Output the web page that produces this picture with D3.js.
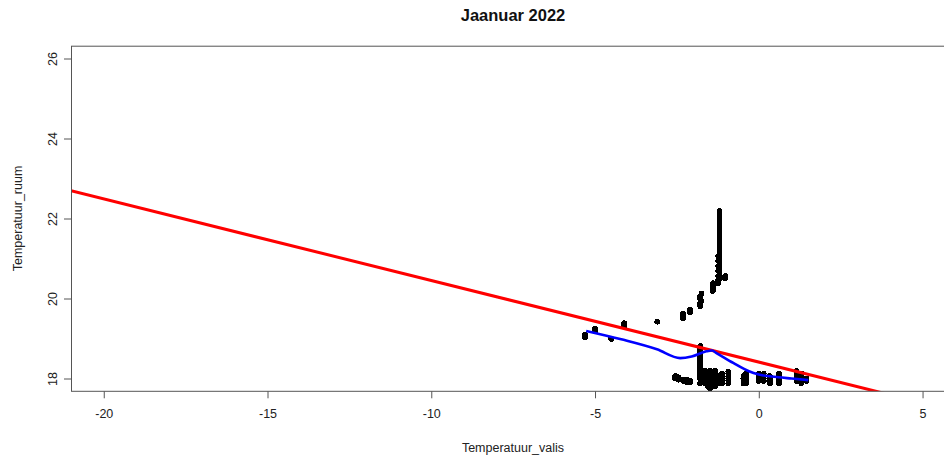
<!DOCTYPE html>
<html>
<head>
<meta charset="utf-8">
<script src="https://cdn.jsdelivr.net/npm/d3@7"></script>
<style>
  html, body { margin: 0; padding: 0; background: #fff; }
  svg { display: block; }
  text { font-family: "Liberation Sans", Arial, sans-serif; }
</style>
</head>
<body>
<svg id="chart" width="944" height="459"></svg>
<script>
// ---- Data ----
const title = "Jaanuar 2022";
const xLabel = "Temperatuur_valis";
const yLabel = "Temperatuur_ruum";
const xTicks = [-20, -15, -10, -5, 0, 5];
const yTicks = [18, 20, 22, 24, 26];
const xLim = [-20, 5];
const yLim = [18, 26];

// observations: [Temperatuur_valis, Temperatuur_ruum]
const obsLeft = [
  [-5.30, 19.03], [-5.30, 19.10], [-5.00, 19.18], [-5.00, 19.25],
  [-4.51, 18.99], [-4.11, 19.31], [-4.11, 19.38], [-3.10, 19.42]
];
const obsRising = [
  [-2.31, 19.50], [-2.31, 19.56], [-2.31, 19.62], [-2.10, 19.66], [-2.10, 19.72],
  [-1.79, 19.81], [-1.79, 19.88], [-1.75, 19.94], [-1.79, 20.00], [-1.79, 20.06],
  [-1.75, 20.12], [-1.40, 20.19], [-1.40, 20.25], [-1.40, 20.31], [-1.40, 20.38],
  [-1.25, 20.38], [-1.25, 20.44], [-1.03, 20.50], [-1.03, 20.56]
];
const obsColumnHigh = [
  [-1.20, 20.50], [-1.20, 20.56], [-1.20, 20.62], [-1.20, 20.69], [-1.20, 20.75],
  [-1.20, 20.81], [-1.20, 20.88], [-1.20, 20.94], [-1.20, 21.00], [-1.20, 21.06],
  [-1.20, 21.12], [-1.20, 21.19], [-1.20, 21.25], [-1.20, 21.31], [-1.20, 21.38],
  [-1.20, 21.44], [-1.20, 21.50], [-1.20, 21.56], [-1.20, 21.62], [-1.20, 21.69],
  [-1.20, 21.75], [-1.20, 21.81], [-1.20, 21.88], [-1.20, 21.94], [-1.20, 22.00],
  [-1.20, 22.06], [-1.20, 22.12], [-1.20, 22.19],
  [-1.24, 20.44], [-1.24, 20.56], [-1.24, 20.69], [-1.24, 20.81], [-1.24, 20.94], [-1.24, 21.06]
];
const obsColumnLow = [
  [-1.79, 18.81], [-1.79, 18.75], [-1.79, 18.69], [-1.79, 18.62], [-1.79, 18.56],
  [-1.79, 18.50], [-1.79, 18.44], [-1.79, 18.38], [-1.79, 18.31], [-1.79, 18.25],
  [-1.79, 18.19], [-1.79, 18.12]
];
const obsBottom = [
  [-2.55, 18.06], [-2.55, 18.00], [-2.45, 18.03], [-2.45, 17.97],
  [-2.31, 17.97], [-2.31, 17.94], [-2.20, 17.94], [-2.20, 17.91], [-2.20, 17.97],
  [-2.10, 17.91], [-2.10, 17.94],
  [-1.79, 18.06], [-1.79, 18.00], [-1.79, 17.88],
  [-1.64, 18.19], [-1.64, 18.12], [-1.64, 18.06], [-1.64, 18.00], [-1.64, 17.94], [-1.64, 17.88],
  [-1.55, 18.12], [-1.55, 18.00], [-1.55, 17.88], [-1.55, 17.81],
  [-1.49, 18.19], [-1.49, 18.12], [-1.49, 18.06], [-1.49, 18.00], [-1.49, 17.94],
  [-1.49, 17.88], [-1.49, 17.81], [-1.49, 17.75],
  [-1.40, 18.12], [-1.40, 18.00], [-1.40, 17.88], [-1.40, 17.81],
  [-1.33, 18.19], [-1.33, 18.12], [-1.33, 18.06], [-1.33, 18.00], [-1.33, 17.94],
  [-1.33, 17.88], [-1.33, 17.81],
  [-1.25, 18.06], [-1.25, 17.94], [-1.25, 17.88],
  [-1.12, 18.12], [-1.12, 18.06], [-1.12, 18.00], [-1.12, 17.94], [-1.12, 17.88],
  [-0.93, 18.17], [-0.93, 18.12], [-0.93, 18.06], [-0.93, 18.00], [-0.93, 17.94], [-0.93, 17.88],
  [-0.47, 18.06], [-0.47, 18.00], [-0.47, 17.94], [-0.47, 17.88],
  [-0.39, 18.12], [-0.39, 18.06], [-0.39, 18.00], [-0.39, 17.94], [-0.39, 17.88],
  [0.00, 18.12], [0.00, 18.06], [0.00, 18.00], [0.00, 17.94],
  [0.15, 18.12], [0.15, 18.06], [0.15, 18.00], [0.15, 17.94],
  [0.34, 18.06], [0.34, 18.00], [0.34, 17.94], [0.34, 17.88],
  [0.62, 18.12], [0.62, 18.06], [0.62, 18.00], [0.62, 17.94], [0.62, 17.88],
  [1.15, 18.19], [1.15, 18.12], [1.15, 18.06], [1.15, 18.00], [1.15, 17.94],
  [1.30, 18.12], [1.30, 18.06], [1.30, 18.00], [1.30, 17.94], [1.30, 17.88],
  [1.45, 18.00], [1.45, 17.94]
];

// linear regression line (abline)
const regIntercept = 18.41;
const regSlope = -0.204;

// lowess smooth
const lowessX = [-5.27, -4.20, -3.11, -2.40, -2.05, -1.60, -1.43, -1.28, -0.78, -0.30, 0.00, 0.61, 1.00, 1.51];
const lowessY = [19.19, 18.98, 18.73, 18.51, 18.55, 18.68, 18.70, 18.63, 18.39, 18.18, 18.10, 18.03, 18.00, 17.96];

// ---- Drawing ----
const svg = d3.select("#chart");
const margin = { left: 71, top: 45.7, right: 955.3, bottom: 391.3 };

const xPad = (xLim[1] - xLim[0]) * 0.04;
const yPad = (yLim[1] - yLim[0]) * 0.04;
const x = d3.scaleLinear().domain([xLim[0] - xPad, xLim[1] + xPad]).range([margin.left, margin.right]);
const y = d3.scaleLinear().domain([yLim[0] - yPad, yLim[1] + yPad]).range([margin.bottom, margin.top]);

svg.append("defs").append("clipPath").attr("id", "plotclip")
  .append("rect")
  .attr("x", margin.left).attr("y", margin.top)
  .attr("width", margin.right - margin.left).attr("height", margin.bottom - margin.top);

const axisColor = "#555";
const textColor = "#222";

// points
const allObs = [].concat(obsLeft, obsRising, obsColumnHigh, obsColumnLow, obsBottom);
const plot = svg.append("g").attr("clip-path", "url(#plotclip)");
plot.append("g").attr("shape-rendering", "crispEdges")
  .selectAll("circle").data(allObs).join("circle")
  .attr("cx", d => x(d[0]))
  .attr("cy", d => y(d[1]))
  .attr("r", 2.9)
  .attr("fill", "#000");

// regression line
const xd = x.domain();
plot.append("line")
  .attr("x1", x(xd[0])).attr("y1", y(regIntercept + regSlope * xd[0]))
  .attr("x2", x(xd[1])).attr("y2", y(regIntercept + regSlope * xd[1]))
  .attr("stroke", "#ff0000").attr("stroke-width", 3);

// lowess line
const lowessPts = lowessX.map((v, i) => [v, lowessY[i]]);
plot.append("path")
  .datum(lowessPts)
  .attr("d", d3.line().x(d => x(d[0])).y(d => y(d[1])).curve(d3.curveMonotoneX))
  .attr("fill", "none").attr("stroke", "#0000ff").attr("stroke-width", 2.6)
  .attr("stroke-linejoin", "round");

// box
svg.append("rect")
  .attr("x", margin.left + 0.5).attr("y", margin.top + 0.5)
  .attr("width", margin.right - margin.left).attr("height", margin.bottom - margin.top - 0.5)
  .attr("fill", "none").attr("stroke", axisColor).attr("stroke-width", 1);

// x axis
const xAxis = d3.axisBottom(x).tickValues(xTicks).tickSize(7).tickPadding(11).tickFormat(d3.format("d"));
const gx = svg.append("g").attr("transform", `translate(0,${margin.bottom})`).call(xAxis);
gx.select(".domain").remove();
gx.selectAll(".tick line").attr("stroke", axisColor);
gx.selectAll(".tick text")
  .attr("fill", textColor).attr("font-size", 12.5)
  .attr("font-family", "Liberation Sans, Arial, sans-serif")
  .text(d => d < 0 ? "-" + Math.abs(d) : d);

// y axis
const yAxis = d3.axisLeft(y).tickValues(yTicks).tickSize(7).tickFormat(d3.format("d"));
const gy = svg.append("g").attr("transform", `translate(${margin.left},0)`).call(yAxis);
gy.select(".domain").remove();
gy.selectAll(".tick line").attr("stroke", axisColor);
gy.selectAll(".tick text")
  .attr("fill", textColor).attr("font-size", 12.5)
  .attr("font-family", "Liberation Sans, Arial, sans-serif")
  .attr("x", null).attr("dy", null)
  .attr("text-anchor", "middle")
  .attr("transform", "translate(-18,0) rotate(-90)")
  .attr("dy", "0.35em")
  .attr("y", 0);

// titles
svg.append("text")
  .attr("x", 513).attr("y", 21)
  .attr("text-anchor", "middle")
  .attr("font-weight", "bold").attr("font-size", 16.5)
  .attr("fill", "#111")
  .text(title);

svg.append("text")
  .attr("x", 513).attr("y", 452)
  .attr("text-anchor", "middle")
  .attr("font-size", 12.5).attr("fill", textColor)
  .text(xLabel);

svg.append("text")
  .attr("transform", `translate(22,${(margin.top + margin.bottom) / 2}) rotate(-90)`)
  .attr("text-anchor", "middle")
  .attr("font-size", 12.5).attr("fill", textColor)
  .text(yLabel);
</script>
</body>
</html>
